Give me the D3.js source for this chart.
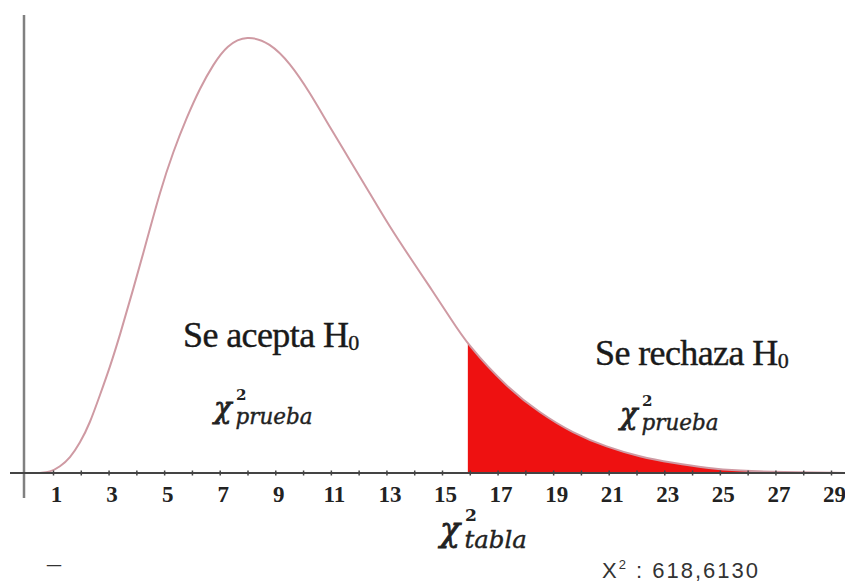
<!DOCTYPE html>
<html><head><meta charset="utf-8">
<script src="https://cdn.jsdelivr.net/npm/d3@7"></script>
<style>html,body{margin:0;padding:0;background:#fff;}svg{display:block;}</style>
</head><body>
<svg id="chart" width="845" height="586"></svg>
<script>
// Curve: chi-square value and density
const curveX = [0.53, 0.89, 1.25, 1.61, 1.97, 2.33, 2.69, 3.05, 3.41, 3.88, 4.38, 4.85, 5.32, 5.82, 6.29, 6.76, 7.26, 7.98, 8.81, 9.53, 10.25, 10.96, 11.68, 12.40, 13.12, 13.84, 14.56, 15.28, 15.93, 17.33, 18.52, 19.71, 20.93, 22.12, 23.30, 24.53, 25.71, 27.15, 29.49];
const curveY = [0, 0.0002, 0.0014, 0.0034, 0.0068, 0.0114, 0.0178, 0.0242, 0.0315, 0.0418, 0.0532, 0.0642, 0.0733, 0.0813, 0.0879, 0.0932, 0.0977, 0.1000, 0.0982, 0.0936, 0.0868, 0.0790, 0.0715, 0.0639, 0.0562, 0.0493, 0.0425, 0.0356, 0.0292, 0.0196, 0.0137, 0.0091, 0.0059, 0.0037, 0.0023, 0.0011, 0.0005, 0.0002, 0];
const criticalValue = 15.93;
const tickLabels = [1, 3, 5, 7, 9, 11, 13, 15, 17, 19, 21, 23, 25, 27, 29];
const minorTicks = d3.range(1, 30);
const statText = "618,6130";

const svg = d3.select("#chart");
const x = d3.scaleLinear().domain([1, 29]).range([53, 831]);
const y = d3.scaleLinear().domain([0, 0.1]).range([473, 35]);

const pts = curveX.map((v, i) => ({x: v, y: curveY[i]}));

svg.append("clipPath").attr("id", "tailClip").append("rect")
  .attr("x", x(criticalValue)).attr("y", 0).attr("width", 845).attr("height", y(0));

// rejection area
const area = d3.area().x(d => x(d.x)).y0(y(0)).y1(d => y(d.y)).curve(d3.curveBasis);
svg.append("path").datum(pts).attr("d", area).attr("fill", "#ee1111")
  .attr("clip-path", "url(#tailClip)");

// density curve
const line = d3.line().x(d => x(d.x)).y(d => y(d.y)).curve(d3.curveBasis);
svg.append("path").datum(pts).attr("d", line).attr("fill", "none")
  .attr("stroke", "#cf9aa3").attr("stroke-width", 2);

// y axis line
svg.append("line").attr("x1", 24).attr("x2", 24).attr("y1", 15).attr("y2", 498)
  .attr("stroke", "#808080").attr("stroke-width", 2.5);

// x axis line
svg.append("line").attr("x1", 10).attr("x2", 845).attr("y1", y(0)).attr("y2", y(0))
  .attr("stroke", "#444").attr("stroke-width", 2);

// minor ticks across the axis
const minorAxis = d3.axisBottom(x).tickValues(minorTicks).tickSize(5).tickFormat("");
const gMinor = svg.append("g").attr("transform", `translate(0,${y(0) - 2.5})`).call(minorAxis);
gMinor.select(".domain").remove();
gMinor.selectAll(".tick line").attr("stroke", "#444").attr("stroke-width", 1.5);

// labelled ticks
const labelAxis = d3.axisBottom(x).tickValues(tickLabels).tickSize(0).tickPadding(0).tickFormat(d3.format("d"));
const gLab = svg.append("g").attr("transform", `translate(3,${y(0)})`).call(labelAxis);
gLab.select(".domain").remove();
gLab.selectAll(".tick text")
  .attr("y", 29).attr("dy", null)
  .attr("font-family", "'Liberation Serif', 'Times New Roman', serif")
  .attr("font-size", 23).attr("font-weight", "bold").attr("fill", "#222");

const serif = "'Liberation Serif', 'Times New Roman', serif";
const mathF = "'DejaVu Serif', serif";

function hText(xp, yp, main) {
  const t = svg.append("text").attr("x", xp).attr("y", yp)
    .attr("font-family", serif).attr("font-size", 36).attr("fill", "#1a1a1a")
    .attr("letter-spacing", -0.6).attr("stroke", "#1a1a1a").attr("stroke-width", 0.4);
  t.append("tspan").text(main);
  t.append("tspan").attr("font-size", 22).attr("dy", 3).text("0");
}
hText(183, 347, "Se acepta H");
hText(595, 365, "Se rechaza H");

function chi(xp, yp, sub, size) {
  const g = svg.append("g").attr("fill", "#222");
  g.append("text").attr("x", xp).attr("y", yp - size * 0.2).attr("font-family", mathF)
    .attr("font-style", "italic").attr("font-size", size)
    .attr("stroke", "#222").attr("stroke-width", 0.8).text("χ");
  g.append("text").attr("x", xp + size * 0.76).attr("y", yp - size * 0.82).attr("font-family", mathF)
    .attr("font-size", size * 0.52).attr("font-weight", "bold").text("2");
  g.append("text").attr("x", xp + size * 0.74).attr("y", yp).attr("font-family", mathF)
    .attr("font-style", "italic").attr("font-size", size * 0.74)
    .attr("stroke", "#222").attr("stroke-width", 0.4).text(sub);
}
chi(214, 424, "prueba", 29);
chi(620, 430, "prueba", 29);
chi(440, 548, "tabla", 33);

// bottom annotations
svg.append("text").attr("x", 47).attr("y", 572).attr("font-family", serif)
  .attr("font-size", 28).attr("fill", "#333").text("–");
const st = svg.append("text").attr("x", 602).attr("y", 578)
  .attr("font-family", "'Liberation Sans', Arial, sans-serif").attr("font-size", 22)
  .attr("letter-spacing", 2).attr("fill", "#333");
st.append("tspan").text("X");
st.append("tspan").attr("font-size", 13).attr("dy", -9).text("2");
st.append("tspan").attr("dy", 9).text(" : " + statText);
</script>
</body></html>
